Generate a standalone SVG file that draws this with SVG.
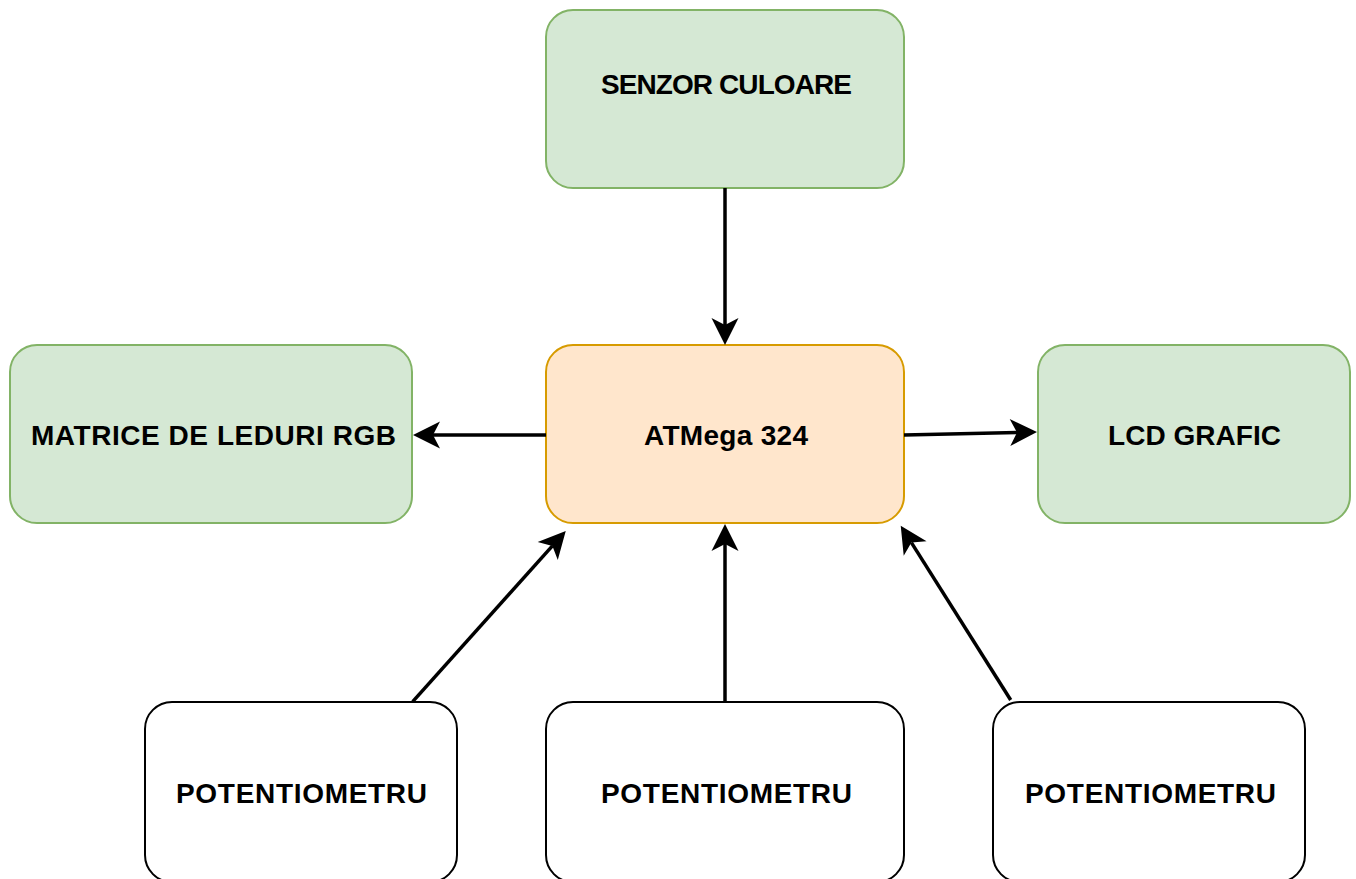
<svg xmlns="http://www.w3.org/2000/svg" width="1356" height="879" viewBox="0 0 1356 879">
<style>
.green{fill:#d5e8d4;stroke:#82b366;stroke-width:2}
.orange{fill:#ffe6cc;stroke:#d79b00;stroke-width:2}
.white{fill:#ffffff;stroke:#000000;stroke-width:2}
.lbl{font-family:"Liberation Sans",Arial,sans-serif;font-weight:bold;font-size:28px;fill:#000;text-anchor:middle}
.edge{stroke:#000;stroke-width:3.5;fill:none}
</style>
<defs>
<marker id="arr" markerUnits="userSpaceOnUse" markerWidth="40" markerHeight="40" viewBox="-10 -20 40 40" refX="0" refY="0" orient="auto">
<path d="M20,0 L-7,-13.5 L0,0 L-7,13.5 Z" fill="#000"/>
</marker>
</defs>
<rect width="1356" height="879" fill="#ffffff"/>
<g id="senzor"><rect class="green" x="546" y="10" width="358" height="178" rx="27"/><text class="lbl" x="726.5" y="94" textLength="251" lengthAdjust="spacing">SENZOR CULOARE</text></g>
<g id="atmega"><rect class="orange" x="546" y="345" width="358" height="178" rx="27"/><text class="lbl" x="726" y="445" textLength="164" lengthAdjust="spacing">ATMega 324</text></g>
<g id="matrice"><rect class="green" x="10" y="345" width="402" height="178" rx="27"/><text class="lbl" x="213.5" y="445" textLength="365" lengthAdjust="spacing">MATRICE DE LEDURI RGB</text></g>
<g id="lcd"><rect class="green" x="1038" y="345" width="312" height="178" rx="27"/><text class="lbl" x="1194.5" y="445" textLength="173" lengthAdjust="spacing">LCD GRAFIC</text></g>
<g id="pot1"><rect class="white" x="145" y="702" width="312" height="180" rx="27"/><text class="lbl" x="301.5" y="803" textLength="251" lengthAdjust="spacing">POTENTIOMETRU</text></g>
<g id="pot2"><rect class="white" x="546" y="702" width="358" height="180" rx="27"/><text class="lbl" x="726.5" y="803" textLength="251" lengthAdjust="spacing">POTENTIOMETRU</text></g>
<g id="pot3"><rect class="white" x="993" y="702" width="312" height="180" rx="27"/><text class="lbl" x="1150.5" y="803" textLength="251" lengthAdjust="spacing">POTENTIOMETRU</text></g>
<g id="connectors">
<line class="edge" x1="725" y1="188" x2="725" y2="325" marker-end="url(#arr)"/>
<line class="edge" x1="546" y1="435" x2="433" y2="435" marker-end="url(#arr)"/>
<line class="edge" x1="904" y1="435" x2="1017" y2="432.45" marker-end="url(#arr)"/>
<line class="edge" x1="412.7" y1="701.7" x2="552.4" y2="545.9" marker-end="url(#arr)"/>
<line class="edge" x1="725" y1="702" x2="725" y2="544" marker-end="url(#arr)"/>
<line class="edge" x1="1010.7" y1="700" x2="911.4" y2="542.6" marker-end="url(#arr)"/>
</g>
</svg>
